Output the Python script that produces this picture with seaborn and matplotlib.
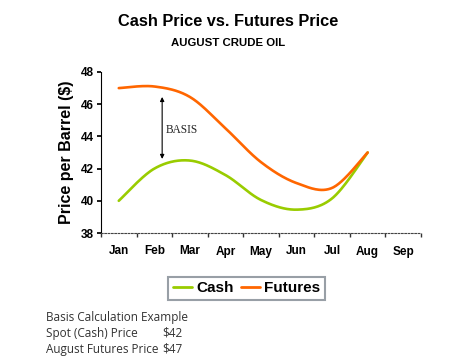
import numpy as np
import pandas as pd
import matplotlib
matplotlib.use("Agg")
import matplotlib.pyplot as plt
import seaborn as sns
from matplotlib.lines import Line2D

months = ["Jan", "Feb", "Mar", "Apr", "May", "Jun", "Jul", "Aug", "Sep"]
cash = [40.0, 42.0, 42.5, 41.6, 40.05, 39.45, 40.15, 43.0]
futures = [47.0, 47.1, 46.45, 44.5, 42.4, 41.1, 40.8, 43.0]
yticks = [38, 40, 42, 44, 46, 48]

sns.set_theme(style="white")
plt.rcParams['font.family'] = ['Liberation Sans', 'DejaVu Sans']
plt.rcParams.update({"text.color": "black", "axes.labelcolor": "black",
                     "xtick.color": "black", "ytick.color": "black"})


def smooth(vals, n=30):
    # Excel-like smoothed line (Catmull-Rom Bezier) through the data points
    p = np.array(vals, dtype=float)
    x = np.arange(len(p), dtype=float)
    xs, ys = [], []
    for i in range(len(p) - 1):
        p0 = (x[i - 1] if i > 0 else x[i], p[i - 1] if i > 0 else p[i])
        p1 = (x[i], p[i])
        p2 = (x[i + 1], p[i + 1])
        p3 = (x[i + 2], p[i + 2]) if i + 2 < len(p) else (x[i + 1], p[i + 1])
        c1 = (p1[0] + (p2[0] - p0[0]) / 6, p1[1] + (p2[1] - p0[1]) / 6)
        c2 = (p2[0] - (p3[0] - p1[0]) / 6, p2[1] - (p3[1] - p1[1]) / 6)
        t = np.linspace(0, 1, n, endpoint=(i == len(p) - 2))
        for a, b in ((0, xs), (1, ys)):
            b.extend((1 - t) ** 3 * p1[a] + 3 * (1 - t) ** 2 * t * c1[a]
                     + 3 * (1 - t) * t ** 2 * c2[a] + t ** 3 * p2[a])
    return np.array(xs), np.array(ys)


frames = []
for name, vals in (("Cash", cash), ("Futures", futures)):
    sx, sy = smooth(vals)
    frames.append(pd.DataFrame({"x": sx, "y": sy, "series": name}))
df = pd.concat(frames)

fig = plt.figure(figsize=(4.57, 3.58), dpi=100)
ax = fig.add_axes([101 / 457, 1 - 233 / 358, 320 / 457, 161 / 358])

sns.lineplot(data=df, x="x", y="y", hue="series", sort=False,
             palette={"Cash": "#99cc00", "Futures": "#ff6600"},
             linewidth=1.9, ax=ax, legend=False)

ax.set_xlim(-0.5, len(months) - 0.5)
ax.set_ylim(38, 48)
ax.set_yticks(yticks)
ax.set_yticklabels([str(v) for v in yticks], fontsize=8.5, fontweight="bold")
ax.set_xticks(np.arange(len(months)))
ax.set_xticklabels(months, fontsize=8.5, fontweight="bold")
ax.set_xticks(np.arange(len(months) + 1) - 0.5, minor=True)
ax.tick_params(axis="x", which="major", length=0, pad=9)
ax.tick_params(axis="x", which="minor", length=3, direction="out", color="#333333", bottom=True)
ax.tick_params(axis="y", length=3, direction="out", color="black", left=True, pad=2)
ax.set_xlabel("")
ax.set_ylabel("Price per Barrel ($)", fontsize=11.5, fontweight="bold", labelpad=5)
for s in ("top", "right"):
    ax.spines[s].set_visible(False)
ax.spines["left"].set_color("black")
ax.spines["left"].set_linewidth(0.8)
ax.spines["bottom"].set_color("#444444")
ax.spines["bottom"].set_linewidth(0.8)
ax.spines["bottom"].set_linestyle((0, (1.5, 1.5)))

ax.annotate("", xy=(1.22, 42.6), xytext=(1.22, 46.45),
            arrowprops=dict(arrowstyle="<|-|>", color="black", lw=0.8,
                            mutation_scale=6, shrinkA=0, shrinkB=0))
ax.text(1.32, 44.4, "BASIS", fontsize=8.3, family=["Liberation Serif", "DejaVu Serif"],
        va="center", ha="left", color="#222222")

fig.text(0.5, 1 - 22 / 358, "Cash Price vs. Futures Price", ha="center", va="center",
         fontsize=11.8, fontweight="bold")
fig.text(0.5, 1 - 43 / 358, "AUGUST CRUDE OIL", ha="center", va="center",
         fontsize=8.2, fontweight="bold")

handles = [Line2D([], [], color="#99cc00", lw=2), Line2D([], [], color="#ff6600", lw=2)]
leg = fig.legend(handles, ["Cash", "Futures"], loc="center",
                 bbox_to_anchor=(246.5 / 457, 1 - 288.5 / 358), ncol=2,
                 prop={"family": "Liberation Sans", "weight": "bold", "size": 11},
                 frameon=True, fancybox=False, handlelength=1.25, handletextpad=0.3,
                 columnspacing=0.45, borderpad=0.3, borderaxespad=0)
leg.get_frame().set_edgecolor("#7f8790")
leg.get_frame().set_linewidth(1.5)

tfont = dict(family=["Open Sans", "DejaVu Sans"], fontsize=8.5, color="#333333", va="center")
fig.text(46 / 457, 1 - 318 / 358, "Basis Calculation Example", **tfont)
fig.text(46 / 457, 1 - 333 / 358, "Spot (Cash) Price", **tfont)
fig.text(162 / 457, 1 - 333 / 358, "$42", **tfont)
fig.text(46 / 457, 1 - 349 / 358, "August Futures Price", **tfont)
fig.text(162 / 457, 1 - 349 / 358, "$47", **tfont)

fig.savefig("out.png", dpi=100)
